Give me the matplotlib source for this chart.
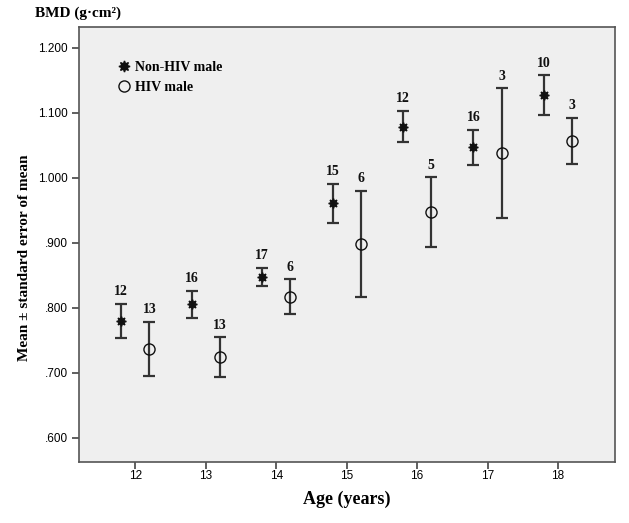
import matplotlib
matplotlib.use("Agg")
import matplotlib.pyplot as plt
import numpy as np
from matplotlib.lines import Line2D

ages = [12, 13, 14, 15, 16, 17, 18]
nonhiv_mean = [0.780, 0.806, 0.848, 0.961, 1.078, 1.047, 1.128]
nonhiv_upper = [0.806, 0.826, 0.862, 0.991, 1.103, 1.074, 1.158]
nonhiv_lower = [0.754, 0.784, 0.833, 0.931, 1.055, 1.020, 1.097]
nonhiv_n = [12, 16, 17, 15, 12, 16, 10]

hiv_mean = [0.737, 0.724, 0.817, 0.899, 0.947, 1.038, 1.056]
hiv_upper = [0.779, 0.755, 0.844, 0.980, 1.001, 1.138, 1.092]
hiv_lower = [0.696, 0.693, 0.790, 0.816, 0.894, 0.938, 1.021]
hiv_n = [13, 13, 6, 6, 5, 3, 3]

yticks = [0.6, 0.7, 0.8, 0.9, 1.0, 1.1, 1.2]
ytick_labels = [".600", ".700", ".800", ".900", "1.000", "1.100", "1.200"]

fig = plt.figure(figsize=(6.29, 5.23), dpi=100)
ax = fig.add_axes([79/629, 1-462/523, (615-79)/629, (462-27)/523])
ax.set_facecolor("#efefef")

serif = "Liberation Serif"
sans = "Liberation Sans"
ec = "#333333"

ages_a = np.array(ages, dtype=float)
x1 = ages_a - 0.2
x2 = ages_a + 0.2

def draw(x, m, lo, up, n, marker, mfc, ms):
    m = np.array(m); lo = np.array(lo); up = np.array(up)
    ax.errorbar(x, m, yerr=[m - lo, up - m], fmt="none", ecolor=ec,
                elinewidth=1.6, capsize=4, capthick=1.6, zorder=2)
    ax.plot(x, m, linestyle="none", marker=marker, markersize=ms,
            markerfacecolor=mfc, markeredgecolor="#111111",
            markeredgewidth=1.0, zorder=3)
    for xi, ui, ni in zip(x, up, n):
        ax.annotate(str(ni), (xi, ui), xytext=(0, 4), textcoords="offset points",
                    ha="center", va="bottom", fontsize=10, fontweight="bold",
                    family=serif, color="#111111")

draw(x1, nonhiv_mean, nonhiv_lower, nonhiv_upper, nonhiv_n, (8, 1, 0), "#111111", 7)
draw(x2, hiv_mean, hiv_lower, hiv_upper, hiv_n, "o", "none", 8)

ax.set_xlim(11.2, 18.81)
ax.set_ylim(0.563, 1.232)
ax.set_xticks(ages)
ax.set_xticklabels([str(a) for a in ages], family=sans, fontsize=8.5)
ax.set_yticks(yticks)
ax.set_yticklabels(ytick_labels, family=sans, fontsize=8.5)
ax.tick_params(direction="out", length=5, width=1.2, color="#444444", pad=3)
ax.tick_params(axis="x", pad=1)
for s in ax.spines.values():
    s.set_color("#555555")
    s.set_linewidth(1.2)

ax.set_xlabel("Age (years)", family=serif, fontweight="bold", fontsize=13, labelpad=6)
fig.text(25/629, 1-258/523, "Mean ± standard error of mean", family=serif,
         fontweight="bold", fontsize=11, rotation=90, ha="center", va="center")
fig.text(35/629, 1-13/523, "BMD (g·cm²)", family=serif, fontweight="bold",
         fontsize=11, ha="left", va="center")

handles = [Line2D([], [], linestyle="none", marker=(8, 1, 0), markersize=8,
                  markerfacecolor="#111111", markeredgecolor="#111111"),
           Line2D([], [], linestyle="none", marker="o", markersize=8,
                  markerfacecolor="none", markeredgecolor="#111111")]
ax.legend(handles, ["Non-HIV male", "HIV male"], loc="upper left",
          bbox_to_anchor=(0.04, 0.95), frameon=False, handletextpad=0.0,
          handlelength=1.6, labelspacing=0.5,
          prop={"family": serif, "weight": "bold", "size": 10})

fig.savefig("out.png", dpi=100)
